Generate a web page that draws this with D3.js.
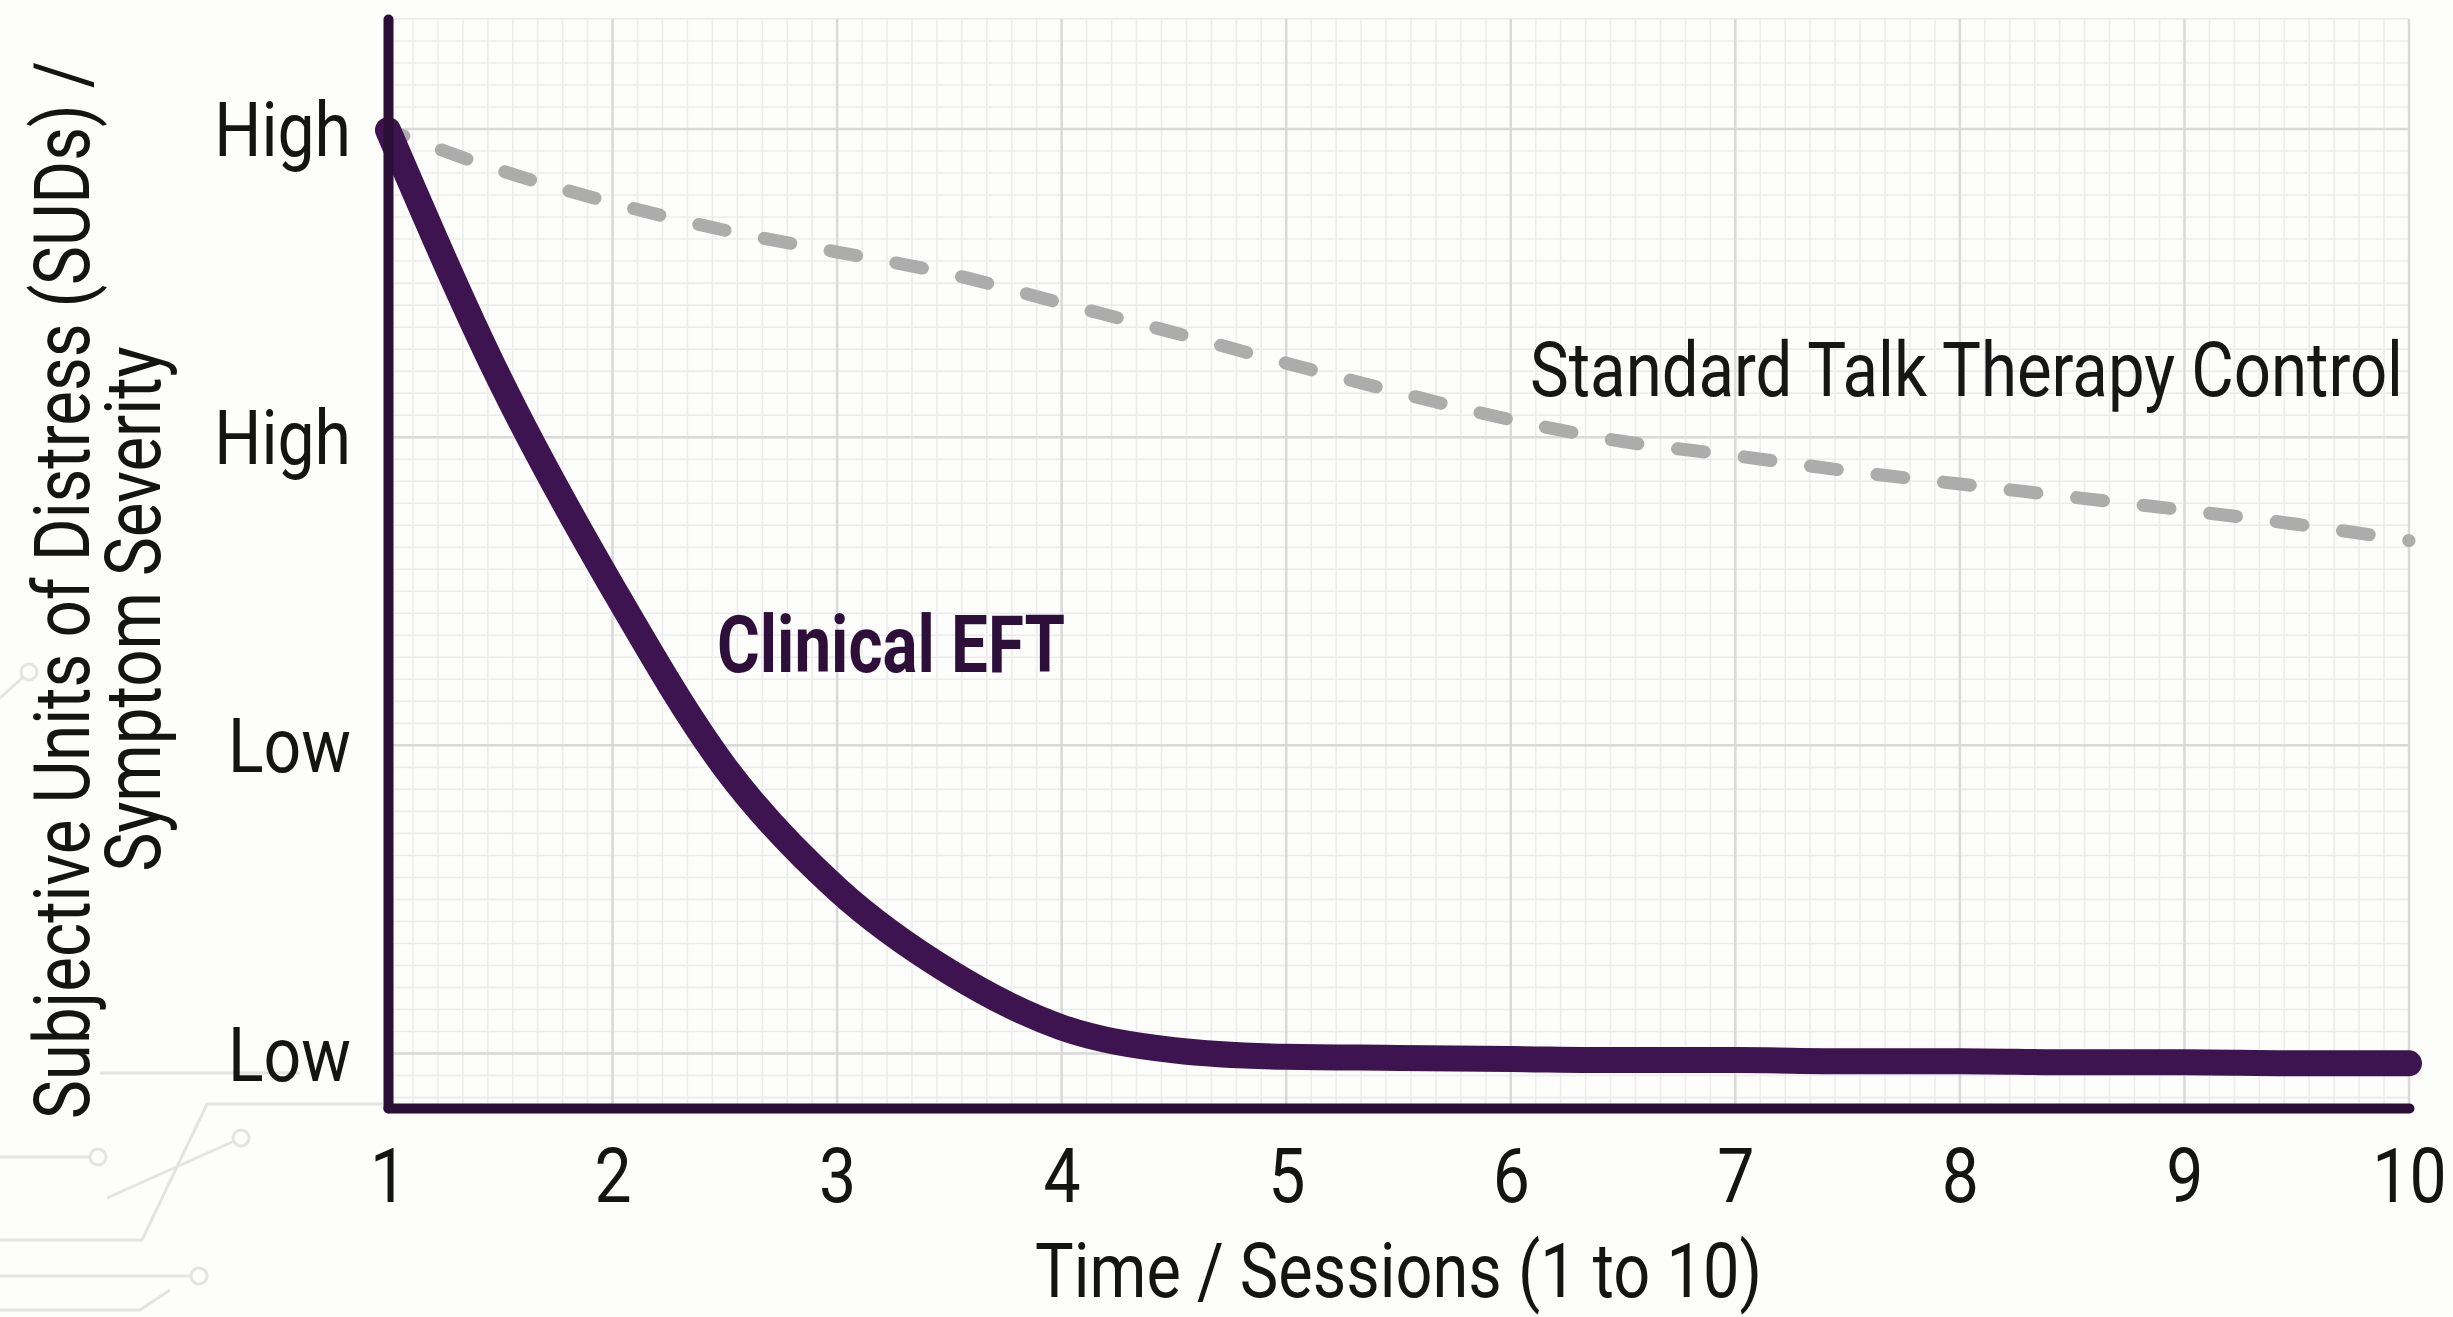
<!DOCTYPE html>
<html>
<head>
<meta charset="utf-8">
<script src="https://cdn.jsdelivr.net/npm/d3@7"></script>
<style>
  html, body { margin: 0; padding: 0; background: #fdfdfb; }
  svg { display: block; }
  text { font-family: Roboto, "Liberation Sans", sans-serif; }
</style>
</head>
<body>
<div id="chart"></div>
<script>
// Data (sessions, half steps)
const sessions = [1, 1.5, 2, 2.5, 3, 3.5, 4, 4.5, 5, 5.5, 6, 6.5, 7, 7.5, 8, 8.5, 9, 9.5, 10];
const eftValues = [89.8, 66.8, 47.8, 31.3, 20.1, 12.5, 7.4, 5.3, 4.7, 4.6, 4.5, 4.4, 4.4, 4.3, 4.3, 4.2, 4.2, 4.1, 4.1];
const controlValues = [89.8, 86.1, 83.1, 80.6, 78.6, 76.6, 73.9, 71.2, 68.4, 65.7, 63.2, 61.2, 59.9, 58.5, 57.3, 56.1, 54.9, 53.6, 52.1];

// Tick labels
const xTickValues = [1, 2, 3, 4, 5, 6, 7, 8, 9, 10];
const yTickValues = [5, 33.3, 61.6, 89.9];
const yTickLabels = ["Low", "Low", "High", "High"];

const width = 2453;
const height = 1317;
const margin = { top: 19, right: 44, bottom: 209, left: 388 };

const axisColor = "#2b0e36";
const eftColor = "#3d1450";
const controlColor = "#acacac";

const svg = d3.select("#chart")
    .append("svg")
    .attr("width", width)
    .attr("height", height);

const x = d3.scaleLinear()
    .domain([1, 10])
    .range([margin.left, width - margin.right]);

const y = d3.scaleLinear()
    .domain([0, 100])
    .range([height - margin.bottom, margin.top]);

// make Roboto look condensed like the original font
function condense(sel, k) {
    sel.each(function () {
        const w = this.getComputedTextLength();
        d3.select(this).attr("textLength", w * k).attr("lengthAdjust", "spacingAndGlyphs");
    });
}
function fitWidth(sel, target) {
    sel.attr("textLength", target).attr("lengthAdjust", "spacingAndGlyphs");
}

// faint circuit-board decoration, bottom left
const deco = svg.append("g")
    .attr("fill", "none")
    .attr("stroke", "#e4e4e2")
    .attr("stroke-width", 3);
const decoPaths = [
    "M0,1157H98", "M107,1198L241,1138", "M0,1240H142L207,1104H383",
    "M100,1073H300", "M0,1276H199", "M0,698L29,672", "M0,1310H140L170,1290"
];
deco.selectAll("path").data(decoPaths).enter().append("path").attr("d", d => d);
deco.selectAll("circle")
    .data([[98, 1157], [241, 1138], [199, 1276], [29, 672]])
    .enter()
    .append("circle")
    .attr("cx", d => d[0]).attr("cy", d => d[1]).attr("r", 8)
    .attr("fill", "#fdfdfb");

// Grid (graph paper)
const grid = svg.append("g");
const yStep = (yTickValues[1] - yTickValues[0]) / 14;
const yMinor = d3.range(-3, 50).map(k => yTickValues[0] + k * yStep).filter(v => v > 0.5 && v <= 100.1);
const xMinor = d3.range(1, 82).map(i => 1 + i / 9);

grid.selectAll(".vminor")
    .data(xMinor)
    .enter()
    .append("line")
    .attr("x1", d => x(d)).attr("x2", d => x(d))
    .attr("y1", y(100)).attr("y2", y(0))
    .attr("stroke", "#ececec")
    .attr("stroke-width", 1.6);

grid.selectAll(".hminor")
    .data(yMinor)
    .enter()
    .append("line")
    .attr("x1", x(1)).attr("x2", x(10))
    .attr("y1", d => y(d)).attr("y2", d => y(d))
    .attr("stroke", "#ececec")
    .attr("stroke-width", 1.6);

grid.selectAll(".vmajor")
    .data(xTickValues.slice(1))
    .enter()
    .append("line")
    .attr("x1", d => x(d)).attr("x2", d => x(d))
    .attr("y1", y(100)).attr("y2", y(0))
    .attr("stroke", "#d9d9d9")
    .attr("stroke-width", 2.5);

grid.selectAll(".hmajor")
    .data(yTickValues)
    .enter()
    .append("line")
    .attr("x1", x(1)).attr("x2", x(10))
    .attr("y1", d => y(d)).attr("y2", d => y(d))
    .attr("stroke", "#d9d9d9")
    .attr("stroke-width", 2.5);

// Lines
const line = d3.line()
    .x((d, i) => x(sessions[i]))
    .y(d => y(d))
    .curve(d3.curveMonotoneX);

svg.append("path")
    .datum(controlValues)
    .attr("fill", "none")
    .attr("stroke", controlColor)
    .attr("stroke-width", 13)
    .attr("stroke-linecap", "round")
    .attr("stroke-dasharray", "27 40")
    .attr("stroke-dashoffset", 10)
    .attr("d", line);

svg.append("path")
    .datum(eftValues)
    .attr("fill", "none")
    .attr("stroke", eftColor)
    .attr("stroke-width", 26)
    .attr("stroke-linecap", "round")
    .attr("stroke-linejoin", "round")
    .attr("d", line);

// Axes
const yAxis = svg.append("g")
    .attr("transform", `translate(${margin.left},0)`)
    .call(d3.axisLeft(y)
        .tickValues(yTickValues)
        .tickFormat((d, i) => yTickLabels[i])
        .tickSize(0)
        .tickPadding(37));

const xAxis = svg.append("g")
    .attr("transform", `translate(0,${height - margin.bottom})`)
    .call(d3.axisBottom(x)
        .tickValues(xTickValues)
        .tickFormat(d3.format("d"))
        .tickSize(0)
        .tickPadding(40));

[yAxis, xAxis].forEach(g => {
    g.select(".domain")
        .attr("stroke", axisColor)
        .attr("stroke-width", 10)
        .attr("stroke-linecap", "round");
    g.selectAll("text")
        .style("font-family", "Roboto")
        .style("font-size", "76px")
        .attr("fill", "#141414");
});
yAxis.selectAll("text").attr("dy", "0.35em");
condense(yAxis.selectAll("text"), 0.87);
condense(xAxis.selectAll("text"), 0.87);

// Series labels
svg.append("text")
    .attr("x", x(2.465))
    .attr("y", y(40))
    .text("Clinical EFT")
    .style("font-size", "80px")
    .style("font-weight", "bold")
    .attr("fill", "#2d0f3a")
    .call(fitWidth, 348);

svg.append("text")
    .attr("x", x(10) - 6)
    .attr("y", y(65.4))
    .attr("text-anchor", "end")
    .text("Standard Talk Therapy Control")
    .style("font-size", "76px")
    .attr("fill", "#161616")
    .call(fitWidth, 873);

// Axis titles
svg.append("text")
    .attr("x", (x(1) + x(10)) / 2)
    .attr("y", 1297)
    .attr("text-anchor", "middle")
    .text("Time / Sessions (1 to 10)")
    .style("font-size", "76px")
    .attr("fill", "#141414")
    .call(fitWidth, 727);

const yTitle = svg.append("g")
    .attr("transform", "translate(0,590) rotate(-90)");

const t1 = yTitle.append("text")
    .attr("x", 0)
    .attr("y", 89)
    .attr("text-anchor", "middle")
    .text("Subjective Units of Distress (SUDs) /")
    .style("font-size", "78px")
    .attr("fill", "#141414");

const t2 = yTitle.append("text")
    .attr("x", -19)
    .attr("y", 160)
    .attr("text-anchor", "middle")
    .text("Symptom Severity")
    .style("font-size", "78px")
    .attr("fill", "#141414");

const k = 1058 / t1.node().getComputedTextLength();
condense(t1, k);
condense(t2, k);
</script>
</body>
</html>
